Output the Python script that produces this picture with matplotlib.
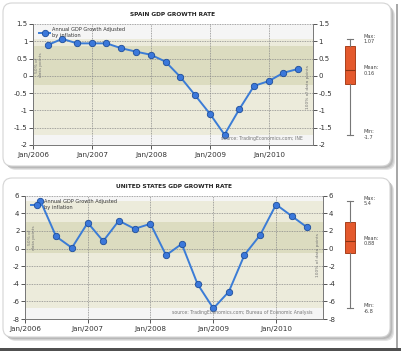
import matplotlib
matplotlib.use("Agg")
import matplotlib.pyplot as plt
import matplotlib.dates as mdates
import matplotlib.transforms as mtransforms
from matplotlib.patches import FancyBboxPatch, Rectangle
from datetime import date

plt.rcParams['font.family'] = 'DejaVu Sans'
plt.rcParams['axes.unicode_minus'] = False

# quarterly points (end of quarter), Q1 2006 .. Q2 2010
quarters = ["2006-04", "2006-07", "2006-10", "2007-01", "2007-04", "2007-07",
            "2007-10", "2008-01", "2008-04", "2008-07", "2008-10", "2009-01",
            "2009-04", "2009-07", "2009-10", "2010-01", "2010-04", "2010-07"]

spain_gdp = [0.89, 1.07, 0.94, 0.94, 0.94, 0.80, 0.70, 0.61, 0.41, -0.03,
             -0.56, -1.1, -1.7, -0.97, -0.29, -0.15, 0.09, 0.20]
us_gdp = [5.4, 1.37, 0.08, 2.93, 0.84, 3.16, 2.24, 2.81, -0.76, 0.53,
          -4.03, -6.8, -4.9, -0.72, 1.55, 5.0, 3.7, 2.4]

# summary values shown in the side box plots
spain_stats = {"max": 1.07, "mean": 0.16, "min": -1.7, "q1": -0.25, "q3": 0.87}
us_stats = {"max": 5.4, "mean": 0.88, "min": -6.8, "q1": -0.55, "q3": 3.0}

spain_yticks = [-2, -1.5, -1, -0.5, 0, 0.5, 1, 1.5]
us_yticks = [-8, -6, -4, -2, 0, 2, 4, 6]

W, H = 401, 351
fig = plt.figure(figsize=(W / 100, H / 100), dpi=100)
fig.patch.set_facecolor('white')


def px_axes(x0, y0, x1, y1):
    # box given in pixels, y measured from the top
    return fig.add_axes([x0 / W, 1 - y1 / H, (x1 - x0) / W, (y1 - y0) / H])


# background: panels with shadows
bg = fig.add_axes([0, 0, 1, 1])
bg.set_xlim(0, W)
bg.set_ylim(H, 0)
bg.axis('off')
bg.add_patch(Rectangle((396, 4), 2, 347, color='#a8a8a8', lw=0))
bg.add_patch(Rectangle((0, 347.5), 401, 4, color='#505050', lw=0))
for (x0, y0, x1, y1) in [(3, 3, 391, 166), (3, 178, 390, 337)]:
    for k, c in [(4, '#e4e4e4'), (3, '#cfcfcf'), (2, '#b8b8b8')]:
        bg.add_patch(FancyBboxPatch((x0 + k, y0 + k), x1 - x0, y1 - y0,
                                    boxstyle="round,pad=0,rounding_size=9",
                                    fc=c, ec='none'))
    bg.add_patch(FancyBboxPatch((x0, y0), x1 - x0, y1 - y0,
                                boxstyle="round,pad=0,rounding_size=9",
                                fc='white', ec='#d4d4d4', lw=0.8))

dates = [date(int(q[:4]), int(q[5:]), 1) for q in quarters]


def draw_panel(box, boxplot_box, values, stats, yticks, title, source):
    ax = px_axes(*box)
    ax.set_facecolor('#f5f5f5')
    ax.set_xlim(date(2006, 1, 1), date(2010, 10, 1))
    ax.set_ylim(yticks[0], yticks[-1])
    ax.axhspan(stats["min"], stats["max"], color='#ecebdb', lw=0, zorder=0)
    ax.axhspan(stats["q1"], stats["q3"], color='#dcdcc0', lw=0, zorder=0)

    ax.xaxis.set_major_locator(mdates.YearLocator())
    ax.xaxis.set_major_formatter(mdates.DateFormatter('Jan/%Y'))
    ax.set_yticks(yticks)
    ax.set_yticklabels(['%g' % t for t in yticks])
    ax.grid(True, linestyle=(0, (1, 1)), color='#8a8a8a', linewidth=0.6)
    ax.set_axisbelow(True)
    ax.tick_params(axis='y', left=True, right=True, labelleft=True,
                   labelright=True, length=3, width=0.7, pad=1,
                   labelsize=5, colors='#555', labelcolor='#333')
    ax.tick_params(axis='x', length=3, width=0.7, pad=2, labelsize=5.2,
                   colors='#555', labelcolor='#333')
    ax.spines['top'].set_visible(False)
    for s in ['left', 'right', 'bottom']:
        ax.spines[s].set_color('#777')
        ax.spines[s].set_linewidth(0.7)

    ax.plot(dates, values, color='#3b7cd6', lw=1.4, marker='o', ms=4.6,
            mfc='#3b78db', mec='#1d4d9a', mew=0.6,
            label='Annual GDP Growth Adjusted\nby inflation', zorder=3)
    leg = ax.legend(loc='upper left', bbox_to_anchor=(0.01, 1.0), frameon=False,
                    fontsize=3.6, handlelength=2.2, handletextpad=0.3,
                    borderaxespad=0.3)
    for t in leg.get_texts():
        t.set_color('#333')

    trans = mtransforms.blended_transform_factory(ax.transAxes, ax.transData)
    ax.text(0.022, (stats["q1"] + stats["q3"]) / 2, '50% of\ndata points',
            rotation=90, fontsize=3.2, color='#777', ha='center', va='center',
            transform=trans, linespacing=1.0)
    ax.text(0.982, (stats["min"] + stats["max"]) / 2, '100% of data points',
            rotation=90, fontsize=3.2, color='#777', ha='center', va='center',
            transform=trans)
    ax.text(0.965, 0.05, source, fontsize=3.3, color='#777', ha='right',
            va='center', transform=ax.transAxes)
    ax.set_title(title, fontsize=4.2, fontweight='bold', color='#222', pad=5.5)

    bx = px_axes(*boxplot_box)
    bx.set_xlim(-1, 3)
    bx.set_ylim(yticks[0], yticks[-1])
    bx.axis('off')
    bxp_stats = [{"med": stats["mean"], "q1": stats["q1"], "q3": stats["q3"],
                  "whislo": stats["min"], "whishi": stats["max"], "fliers": []}]
    bx.bxp(bxp_stats, positions=[0], widths=0.68, patch_artist=True,
           showfliers=False, capwidths=0.4,
           boxprops=dict(facecolor='#e4592d', edgecolor='#a8401c', lw=0.7),
           medianprops=dict(color='#8a3414', lw=0.8),
           whiskerprops=dict(color='#777', lw=0.8),
           capprops=dict(color='#777', lw=0.8))
    for key, lab in [("max", "Max:"), ("mean", "Mean:"), ("min", "Min:")]:
        bx.text(0.9, stats[key], '%s\n%g' % (lab, stats[key]), fontsize=3.6,
                color='#444', ha='left', va='center', linespacing=1.1)
    return ax


draw_panel((33, 24, 313, 145), (335, 24, 395, 145), spain_gdp, spain_stats,
           spain_yticks, 'SPAIN GDP GROWTH RATE',
           'source: TradingEconomics.com; INE')
draw_panel((25, 195.7, 323, 319), (335, 195.7, 395, 319), us_gdp, us_stats,
           us_yticks, 'UNITED STATES GDP GROWTH RATE',
           'source: TradingEconomics.com; Bureau of Economic Analysis')

fig.savefig('out.png', dpi=100)
